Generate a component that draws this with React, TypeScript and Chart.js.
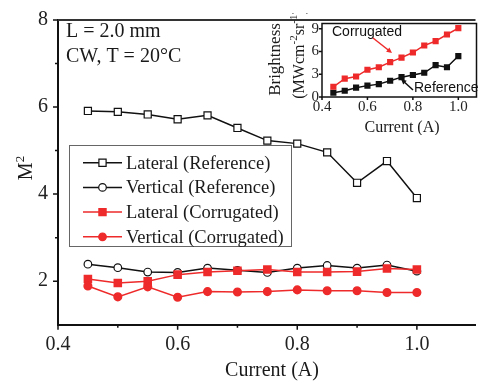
import React, { useEffect, useRef } from "react";
import { Chart, registerables } from "chart.js";

Chart.register(...registerables);

// ---------- data ----------
const CURRENT = [0.45, 0.5, 0.55, 0.6, 0.65, 0.7, 0.75, 0.8, 0.85, 0.9, 0.95, 1.0];
const LATERAL_REF = [5.91, 5.89, 5.83, 5.72, 5.81, 5.52, 5.23, 5.16, 4.96, 4.26, 4.76, 3.91];
const VERTICAL_REF = [2.39, 2.31, 2.21, 2.2, 2.3, 2.25, 2.2, 2.3, 2.36, 2.3, 2.37, 2.23];
const LATERAL_COR = [2.05, 1.96, 2.0, 2.15, 2.21, 2.24, 2.27, 2.21, 2.21, 2.22, 2.29, 2.27];
const VERTICAL_COR = [1.89, 1.64, 1.87, 1.63, 1.76, 1.75, 1.76, 1.8, 1.78, 1.78, 1.74, 1.74];

const BRIGHT_REF = [0.56, 0.83, 1.23, 1.5, 1.7, 2.14, 2.62, 2.9, 3.2, 4.2, 3.93, 5.4];
const BRIGHT_COR = [1.35, 2.42, 2.7, 3.6, 3.93, 4.6, 5.2, 5.87, 6.8, 7.38, 8.25, 9.1];

const SERIES_NAMES = [
  "Lateral (Reference)",
  "Vertical (Reference)",
  "Lateral (Corrugated)",
  "Vertical (Corrugated)",
];
const X_TICKS = [0.4, 0.6, 0.8, 1.0];
const X_MINOR = [0.5, 0.7, 0.9];
const Y_TICKS = [2, 4, 6, 8];
const Y_MINOR = [3, 5, 7];
const INSET_X_TICKS = [0.4, 0.6, 0.8, 1.0];
const INSET_Y_TICKS = [0, 3, 6, 9];

const RED = "#ee2a2a";
const BLACK = "#111111";
const SERIF = '"Liberation Serif", "Times New Roman", serif';
const SANS = '"Liberation Sans", Arial, sans-serif';

function pts(vals: number[]) {
  return CURRENT.map((x, i) => ({ x, y: vals[i] }));
}

function drawMarker(ctx: CanvasRenderingContext2D, kind: string, x: number, y: number, fill: string, stroke: string) {
  ctx.save();
  ctx.beginPath();
  if (kind === "rect") ctx.rect(x - 3.6, y - 3.6, 7.2, 7.2);
  else ctx.arc(x, y, 3.8, 0, Math.PI * 2);
  ctx.fillStyle = fill;
  ctx.fill();
  ctx.lineWidth = 1.2;
  ctx.strokeStyle = stroke;
  ctx.stroke();
  ctx.restore();
}

function rotatedParts(
  ctx: CanvasRenderingContext2D,
  cx: number,
  cy: number,
  parts: { t: string; size: number; raise: number }[],
  family: string,
  base: number
) {
  ctx.save();
  ctx.translate(cx, cy);
  ctx.rotate(-Math.PI / 2);
  ctx.textBaseline = "alphabetic";
  ctx.textAlign = "left";
  let total = 0;
  const widths = parts.map((p) => {
    ctx.font = `${p.size}px ${family}`;
    const w = ctx.measureText(p.t).width;
    total += w;
    return w;
  });
  let x = -total / 2;
  parts.forEach((p, i) => {
    ctx.font = `${p.size}px ${family}`;
    ctx.fillText(p.t, x, base - p.raise);
    x += widths[i];
  });
  ctx.restore();
}

function arrow(ctx: CanvasRenderingContext2D, x1: number, y1: number, x2: number, y2: number, color: string) {
  const ang = Math.atan2(y2 - y1, x2 - x1);
  const s = 6;
  ctx.save();
  ctx.strokeStyle = color;
  ctx.fillStyle = color;
  ctx.lineWidth = 1.5;
  ctx.beginPath();
  ctx.moveTo(x1, y1);
  ctx.lineTo(x2 - Math.cos(ang) * s * 0.8, y2 - Math.sin(ang) * s * 0.8);
  ctx.stroke();
  ctx.beginPath();
  ctx.moveTo(x2, y2);
  ctx.lineTo(x2 - s * Math.cos(ang - 0.45), y2 - s * Math.sin(ang - 0.45));
  ctx.lineTo(x2 - s * Math.cos(ang + 0.45), y2 - s * Math.sin(ang + 0.45));
  ctx.closePath();
  ctx.fill();
  ctx.restore();
}

const mainDecor = {
  id: "mainDecor",
  afterDraw(chart: any) {
    const ctx: CanvasRenderingContext2D = chart.ctx;
    const a = chart.chartArea;
    const xs = chart.scales.x;
    const ys = chart.scales.y;
    ctx.save();
    ctx.strokeStyle = BLACK;
    ctx.lineWidth = 1.5;
    ctx.beginPath();
    X_TICKS.forEach((v) => {
      const p = xs.getPixelForValue(v);
      ctx.moveTo(p, a.bottom);
      ctx.lineTo(p, a.bottom + 5);
    });
    X_MINOR.forEach((v) => {
      const p = xs.getPixelForValue(v);
      ctx.moveTo(p, a.bottom);
      ctx.lineTo(p, a.bottom + 3);
    });
    Y_TICKS.forEach((v) => {
      const p = ys.getPixelForValue(v);
      ctx.moveTo(a.left - 5, p);
      ctx.lineTo(a.left, p);
    });
    Y_MINOR.forEach((v) => {
      const p = ys.getPixelForValue(v);
      ctx.moveTo(a.left - 3, p);
      ctx.lineTo(a.left, p);
    });
    ctx.stroke();
    // top frame
    ctx.strokeStyle = "#333";
    ctx.lineWidth = 2;
    ctx.beginPath();
    ctx.moveTo(a.left, a.top);
    ctx.lineTo(a.right, a.top);
    ctx.stroke();

    // annotations
    ctx.fillStyle = "#1a1a1a";
    ctx.font = `20px ${SERIF}`;
    ctx.textAlign = "left";
    ctx.textBaseline = "middle";
    ctx.fillText("L = 2.0 mm", 66, 32);
    ctx.fillText("CW, T = 20°C", 66, 57);

    // axis titles
    ctx.textAlign = "center";
    ctx.fillText("Current (A)", 272, 371);
    ctx.fillStyle = "#1a1a1a";
    rotatedParts(
      ctx,
      24.5,
      168,
      [
        { t: "M", size: 20, raise: 0 },
        { t: "2", size: 13, raise: 8 },
      ],
      SERIF,
      7
    );

    // legend
    const lx0 = 69, ly0 = 145, lx1 = 291, ly1 = 246;
    ctx.strokeStyle = "#666";
    ctx.lineWidth = 1;
    ctx.strokeRect(lx0 + 0.5, ly0 + 0.5, lx1 - lx0, ly1 - ly0);
    const styles = [
      { c: BLACK, kind: "rect", fill: "#fff" },
      { c: BLACK, kind: "circle", fill: "#fff" },
      { c: RED, kind: "rect", fill: RED },
      { c: RED, kind: "circle", fill: RED },
    ];
    ctx.font = `18.5px ${SERIF}`;
    ctx.textAlign = "left";
    ctx.textBaseline = "middle";
    SERIES_NAMES.forEach((name, i) => {
      const yy = 162.7 + i * 24.7;
      const s = styles[i];
      ctx.strokeStyle = s.c;
      ctx.lineWidth = 1.5;
      ctx.beginPath();
      ctx.moveTo(83, yy);
      ctx.lineTo(122, yy);
      ctx.stroke();
      drawMarker(ctx, s.kind, 102.5, yy, s.fill, s.c);
      ctx.fillStyle = "#1a1a1a";
      ctx.fillText(name, 126, yy + 1);
    });
    ctx.restore();
  },
};

const insetDecor = {
  id: "insetDecor",
  beforeDraw(chart: any) {
    const ctx: CanvasRenderingContext2D = chart.ctx;
    const a = chart.chartArea;
    ctx.save();
    ctx.fillStyle = "#fff";
    ctx.fillRect(a.left, a.top, a.right - a.left, a.bottom - a.top);
    ctx.restore();
  },
  afterDraw(chart: any) {
    const ctx: CanvasRenderingContext2D = chart.ctx;
    const a = chart.chartArea;
    const xs = chart.scales.x;
    const ys = chart.scales.y;
    ctx.save();
    ctx.strokeStyle = BLACK;
    ctx.lineWidth = 1.5;
    ctx.strokeRect(a.left, a.top, a.right - a.left, a.bottom - a.top);
    ctx.beginPath();
    INSET_X_TICKS.forEach((v) => {
      const p = xs.getPixelForValue(v);
      ctx.moveTo(p, a.bottom);
      ctx.lineTo(p, a.bottom + 3);
    });
    INSET_Y_TICKS.forEach((v) => {
      const p = ys.getPixelForValue(v);
      ctx.moveTo(a.left - 3, p);
      ctx.lineTo(a.left, p);
    });
    ctx.stroke();

    ctx.fillStyle = "#1a1a1a";
    ctx.font = `16px ${SERIF}`;
    ctx.textAlign = "center";
    ctx.textBaseline = "middle";
    ctx.fillText("Current (A)", 147, 115);

    rotatedParts(ctx, 19, 46.5, [{ t: "Brightness", size: 17, raise: 0 }], SERIF, 6);
    rotatedParts(
      ctx,
      43,
      41,
      [
        { t: "(MWcm", size: 16, raise: 0 },
        { t: "-2", size: 11, raise: 7 },
        { t: "sr", size: 16, raise: 0 },
        { t: "-1", size: 11, raise: 7 },
        { t: ")", size: 16, raise: 0 },
      ],
      SERIF,
      6
    );

    ctx.font = `14px ${SANS}`;
    ctx.textAlign = "left";
    ctx.textBaseline = "middle";
    ctx.fillStyle = "#111";
    ctx.fillText("Corrugated", 77, 19);
    ctx.fillText("Reference", 159, 75);
    arrow(ctx, 118, 25, 137, 40, RED);
    arrow(ctx, 158, 77, 146, 66, BLACK);
    ctx.restore();
  },
};

export default function App() {
  const mainRef = useRef<HTMLCanvasElement>(null);
  const insetRef = useRef<HTMLCanvasElement>(null);

  useEffect(() => {
    const tickFont = { family: SERIF, size: 20, lineHeight: 1 };
    const main = new Chart(mainRef.current as HTMLCanvasElement, {
      type: "line",
      data: {
        datasets: [
          {
            label: SERIES_NAMES[3],
            data: pts(VERTICAL_COR),
            borderColor: RED,
            backgroundColor: RED,
            pointBackgroundColor: RED,
            pointBorderColor: RED,
            pointStyle: "circle",
            pointRadius: 3.8,
            borderWidth: 1.5,
          },
          {
            label: SERIES_NAMES[2],
            data: pts(LATERAL_COR),
            borderColor: RED,
            backgroundColor: RED,
            pointBackgroundColor: RED,
            pointBorderColor: RED,
            pointStyle: "rect",
            pointRadius: 5,
            borderWidth: 1.5,
          },
          {
            label: SERIES_NAMES[1],
            data: pts(VERTICAL_REF),
            borderColor: BLACK,
            pointBackgroundColor: "#fff",
            pointBorderColor: BLACK,
            pointBorderWidth: 1.2,
            pointStyle: "circle",
            pointRadius: 3.8,
            borderWidth: 1.5,
          },
          {
            label: SERIES_NAMES[0],
            data: pts(LATERAL_REF),
            borderColor: BLACK,
            pointBackgroundColor: "#fff",
            pointBorderColor: BLACK,
            pointBorderWidth: 1.2,
            pointStyle: "rect",
            pointRadius: 5,
            borderWidth: 1.5,
          },
        ],
      },
      options: {
        responsive: false,
        animation: false,
        devicePixelRatio: 1,
        layout: { padding: { top: 11.3, left: 0, right: 0, bottom: 0 } },
        plugins: { legend: { display: false }, tooltip: { enabled: false } },
        scales: {
          x: {
            type: "linear",
            min: 0.4,
            max: 1.098,
            afterBuildTicks: (s: any) => {
              s.ticks = X_TICKS.map((v) => ({ value: v }));
            },
            afterFit: (s: any) => {
              s.height = 63.3;
            },
            grid: { display: false, drawTicks: false },
            border: { display: true, color: BLACK, width: 2 },
            ticks: {
              font: tickFont,
              color: "#222",
              padding: 10,
              maxRotation: 0,
              autoSkip: false,
              callback: (v: any) => Number(v).toFixed(1),
            },
          },
          y: {
            type: "linear",
            min: 1,
            max: 8,
            afterBuildTicks: (s: any) => {
              s.ticks = Y_TICKS.map((v) => ({ value: v }));
            },
            afterFit: (s: any) => {
              s.width = 58;
            },
            grid: { display: false, drawTicks: false },
            border: { display: true, color: BLACK, width: 2 },
            ticks: {
              font: tickFont,
              color: "#222",
              padding: 10,
              autoSkip: false,
              callback: (v: any) => String(v),
            },
          },
        },
      },
      plugins: [mainDecor],
    } as any);

    const insetFont = { family: SERIF, size: 15, lineHeight: 1 };
    const inset = new Chart(insetRef.current as HTMLCanvasElement, {
      type: "line",
      data: {
        datasets: [
          {
            label: "Corrugated",
            data: pts(BRIGHT_COR),
            borderColor: RED,
            pointBackgroundColor: RED,
            pointBorderColor: RED,
            pointStyle: "rect",
            pointRadius: 3.3,
            borderWidth: 1.5,
          },
          {
            label: "Reference",
            data: pts(BRIGHT_REF),
            borderColor: BLACK,
            pointBackgroundColor: BLACK,
            pointBorderColor: BLACK,
            pointStyle: "rect",
            pointRadius: 3.3,
            borderWidth: 1.5,
          },
        ],
      },
      options: {
        responsive: false,
        animation: false,
        devicePixelRatio: 1,
        layout: { padding: { top: 2.5, left: 0, right: 3, bottom: 0 } },
        plugins: { legend: { display: false }, tooltip: { enabled: false } },
        scales: {
          x: {
            type: "linear",
            min: 0.4,
            max: 1.08,
            afterBuildTicks: (s: any) => {
              s.ticks = INSET_X_TICKS.map((v) => ({ value: v }));
            },
            afterFit: (s: any) => {
              s.height = 38;
            },
            grid: { display: false, drawTicks: false },
            border: { display: false },
            ticks: {
              font: insetFont,
              color: "#222",
              padding: 3,
              maxRotation: 0,
              autoSkip: false,
              callback: (v: any) => Number(v).toFixed(1),
            },
          },
          y: {
            type: "linear",
            min: 0,
            max: 9.7,
            afterBuildTicks: (s: any) => {
              s.ticks = INSET_Y_TICKS.map((v) => ({ value: v }));
            },
            afterFit: (s: any) => {
              s.width = 67;
            },
            grid: { display: false, drawTicks: false },
            border: { display: false },
            ticks: {
              font: insetFont,
              color: "#222",
              padding: 3,
              autoSkip: false,
              callback: (v: any) => String(v),
            },
          },
        },
      },
      plugins: [insetDecor],
    } as any);

    return () => {
      main.destroy();
      inset.destroy();
    };
  }, []);

  return (
    <div
      style={{
        position: "fixed",
        left: 0,
        top: 0,
        width: 482,
        height: 388,
        background: "#fff",
        overflow: "hidden",
      }}
    >
      <canvas
        ref={mainRef}
        width={482}
        height={388}
        style={{ position: "absolute", left: 0, top: 0, width: 482, height: 388 }}
      />
      <canvas
        ref={insetRef}
        width={227}
        height={122}
        style={{ position: "absolute", left: 255, top: 13, width: 227, height: 122 }}
      />
    </div>
  );
}
